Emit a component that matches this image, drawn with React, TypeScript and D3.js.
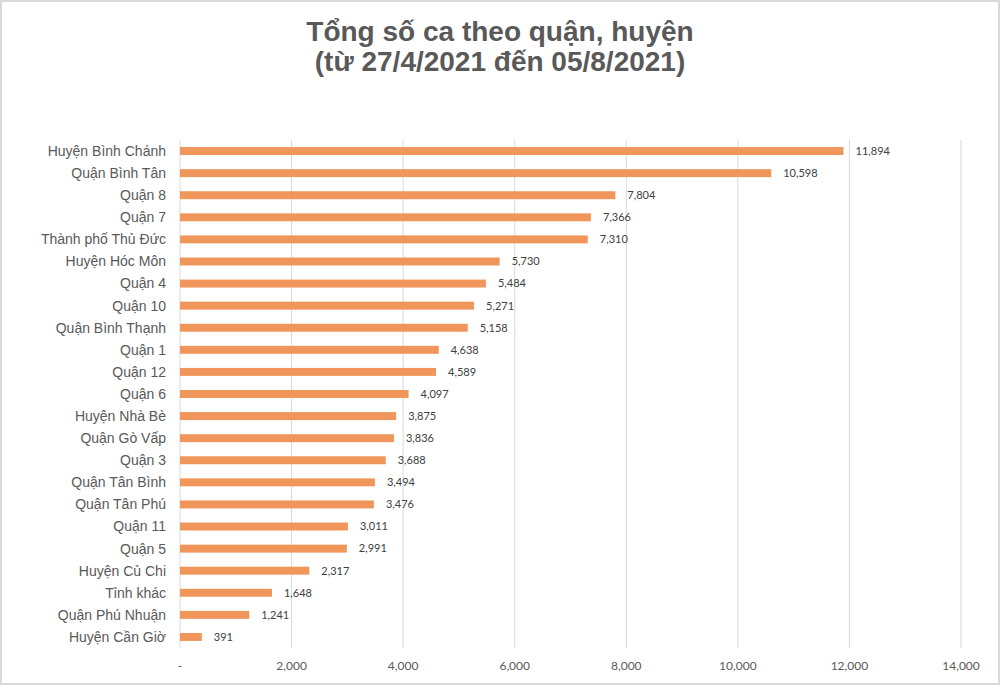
import React from "react";
import * as d3 from "d3";

const categories = [
  "Huyện Bình Chánh", "Quận Bình Tân", "Quận 8", "Quận 7", "Thành phố Thủ Đức",
  "Huyện Hóc Môn", "Quận 4", "Quận 10", "Quận Bình Thạnh", "Quận 1", "Quận 12",
  "Quận 6", "Huyện Nhà Bè", "Quận Gò Vấp", "Quận 3", "Quận Tân Bình", "Quận Tân Phú",
  "Quận 11", "Quận 5", "Huyện Củ Chi", "Tỉnh khác", "Quận Phú Nhuận", "Huyện Cần Giờ",
];
const values = [
  11894, 10598, 7804, 7366, 7310, 5730, 5484, 5271, 5158, 4638, 4589, 4097,
  3875, 3836, 3688, 3494, 3476, 3011, 2991, 2317, 1648, 1241, 391,
];
const xTicks = [0, 2000, 4000, 6000, 8000, 10000, 12000, 14000];
const titleLines = ["Tổng số ca theo quận, huyện", "(từ 27/4/2021 đến 05/8/2021)"];

const W = 1000;
const H = 685;
const plot = { left: 180, right: 961, top: 140, bottom: 648 };

export default function App() {
  const x = d3.scaleLinear().domain([0, 14000]).range([plot.left, plot.right]);
  const y = d3.scaleBand<string>().domain(categories).range([plot.top, plot.bottom]).paddingInner(0.64).paddingOuter(0.32);
  const fmt = d3.format(",");
  return (
    <div style={{ position: "absolute", left: 0, top: 0 }}>
      <svg width={W} height={H} style={{ display: "block", background: "#fff" }}>
        <rect x={1} y={1} width={W - 2} height={H - 2} fill="#fff" stroke="#d9d9d9" strokeWidth={2} />
        {titleLines.map((t, i) => (
          <text key={i} x={500} y={41 + i * 30} textAnchor="middle" fontFamily="'Liberation Sans', Arial, sans-serif" fontWeight="bold" fontSize={28} fill="#595959">{t}</text>
        ))}
        {xTicks.map((t) => (
          <g key={t}>
            <line x1={x(t)} x2={x(t)} y1={plot.top} y2={plot.bottom} stroke="#d9d9d9" strokeWidth={1} />
            <text x={x(t)} y={670} textAnchor="middle" fontFamily="Lato, 'Open Sans', sans-serif" fontSize={12} fill="#595959">{t === 0 ? "-" : fmt(t)}</text>
          </g>
        ))}
        {categories.map((c, i) => {
          const yy = y(c)!;
          const bw = y.bandwidth();
          return (
            <g key={c}>
              <rect x={x(0)} y={yy} width={x(values[i]) - x(0)} height={bw} fill="#F0965A" />
              <text x={166} y={yy + bw / 2} dy="0.35em" textAnchor="end" fontFamily="'Liberation Sans', Arial, sans-serif" fontSize={14} fill="#595959">{c}</text>
              <text x={x(values[i]) + 12} y={yy + bw / 2} dy="0.35em" fontFamily="Lato, 'Open Sans', sans-serif" fontSize={11} fill="#404040">{fmt(values[i])}</text>
            </g>
          );
        })}
      </svg>
    </div>
  );
}
